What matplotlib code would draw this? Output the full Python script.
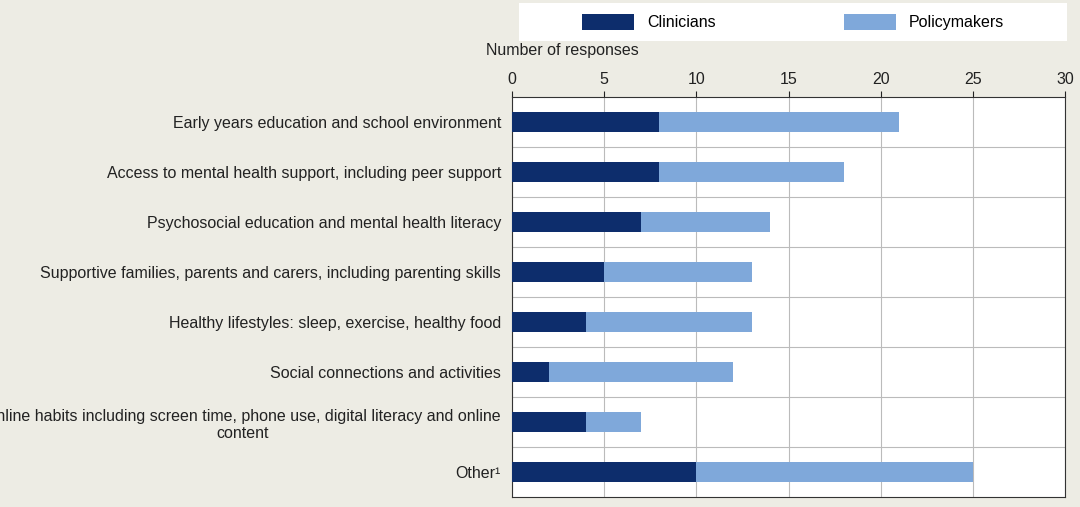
import matplotlib
matplotlib.use('Agg')
import matplotlib.pyplot as plt
import numpy as np

plt.rcParams['font.family'] = ['Liberation Sans', 'DejaVu Sans']

cats = ["Early years education and school environment",
        "Access to mental health support, including peer support",
        "Psychosocial education and mental health literacy",
        "Supportive families, parents and carers, including parenting skills",
        "Healthy lifestyles: sleep, exercise, healthy food",
        "Social connections and activities",
        "Online habits including screen time, phone use, digital literacy and online\ncontent",
        "Other\u00b9"]
clin = [8, 8, 7, 5, 4, 2, 4, 10]
policy = [13, 10, 7, 8, 9, 10, 3, 15]
c_dark, c_light = '#0D2D6C', '#7FA8DA'
bg = '#EDECE4'

fig = plt.figure(figsize=(10.8, 5.07), dpi=100)
fig.patch.set_facecolor(bg)
ax = fig.add_axes([512/1080, 10/507, 553/1080, 400/507])
ax.set_facecolor('white')

y = np.arange(len(cats))
ax.barh(y, clin, color=c_dark, height=0.4, zorder=3, label='Clinicians')
ax.barh(y, policy, left=clin, color=c_light, height=0.4, zorder=3, label='Policymakers')
ax.set_ylim(len(cats) - 0.5, -0.5)
ax.set_xlim(0, 30)
ax.set_yticks(y)
ax.set_yticklabels(cats, fontsize=11.5, color='#222222')
for t in ax.get_yticklabels():
    t.set_multialignment('center')
ax.set_xticks(range(0, 31, 5))
ax.xaxis.tick_top()
ax.tick_params(axis='x', labelsize=11.5, colors='#222222', length=4, direction='out')
ax.tick_params(axis='y', length=0, pad=8)
ax.grid(axis='x', color='#BBBBBB', linewidth=0.8, zorder=0)
for b in np.arange(0.5, len(cats) - 0.5, 1):
    ax.axhline(b, color='#BBBBBB', linewidth=0.8, zorder=0)
for s in ax.spines.values():
    s.set_color('#333333')
    s.set_linewidth(0.8)
fig.text(486/1080, 1 - 50/507, "Number of responses", fontsize=11.5, color='#222222', va='center')

fig.patches.append(plt.Rectangle((519/1080, 1 - 41/507), 548/1080, 38/507,
                                 transform=fig.transFigure, facecolor='white', edgecolor='none'))
leg = fig.legend(loc='center', bbox_to_anchor=(793/1080, 1 - 22/507), ncol=2, frameon=False,
                 fontsize=11.5, handlelength=3.3, handleheight=1.2, columnspacing=8)

plt.savefig("out.png", facecolor=bg)
